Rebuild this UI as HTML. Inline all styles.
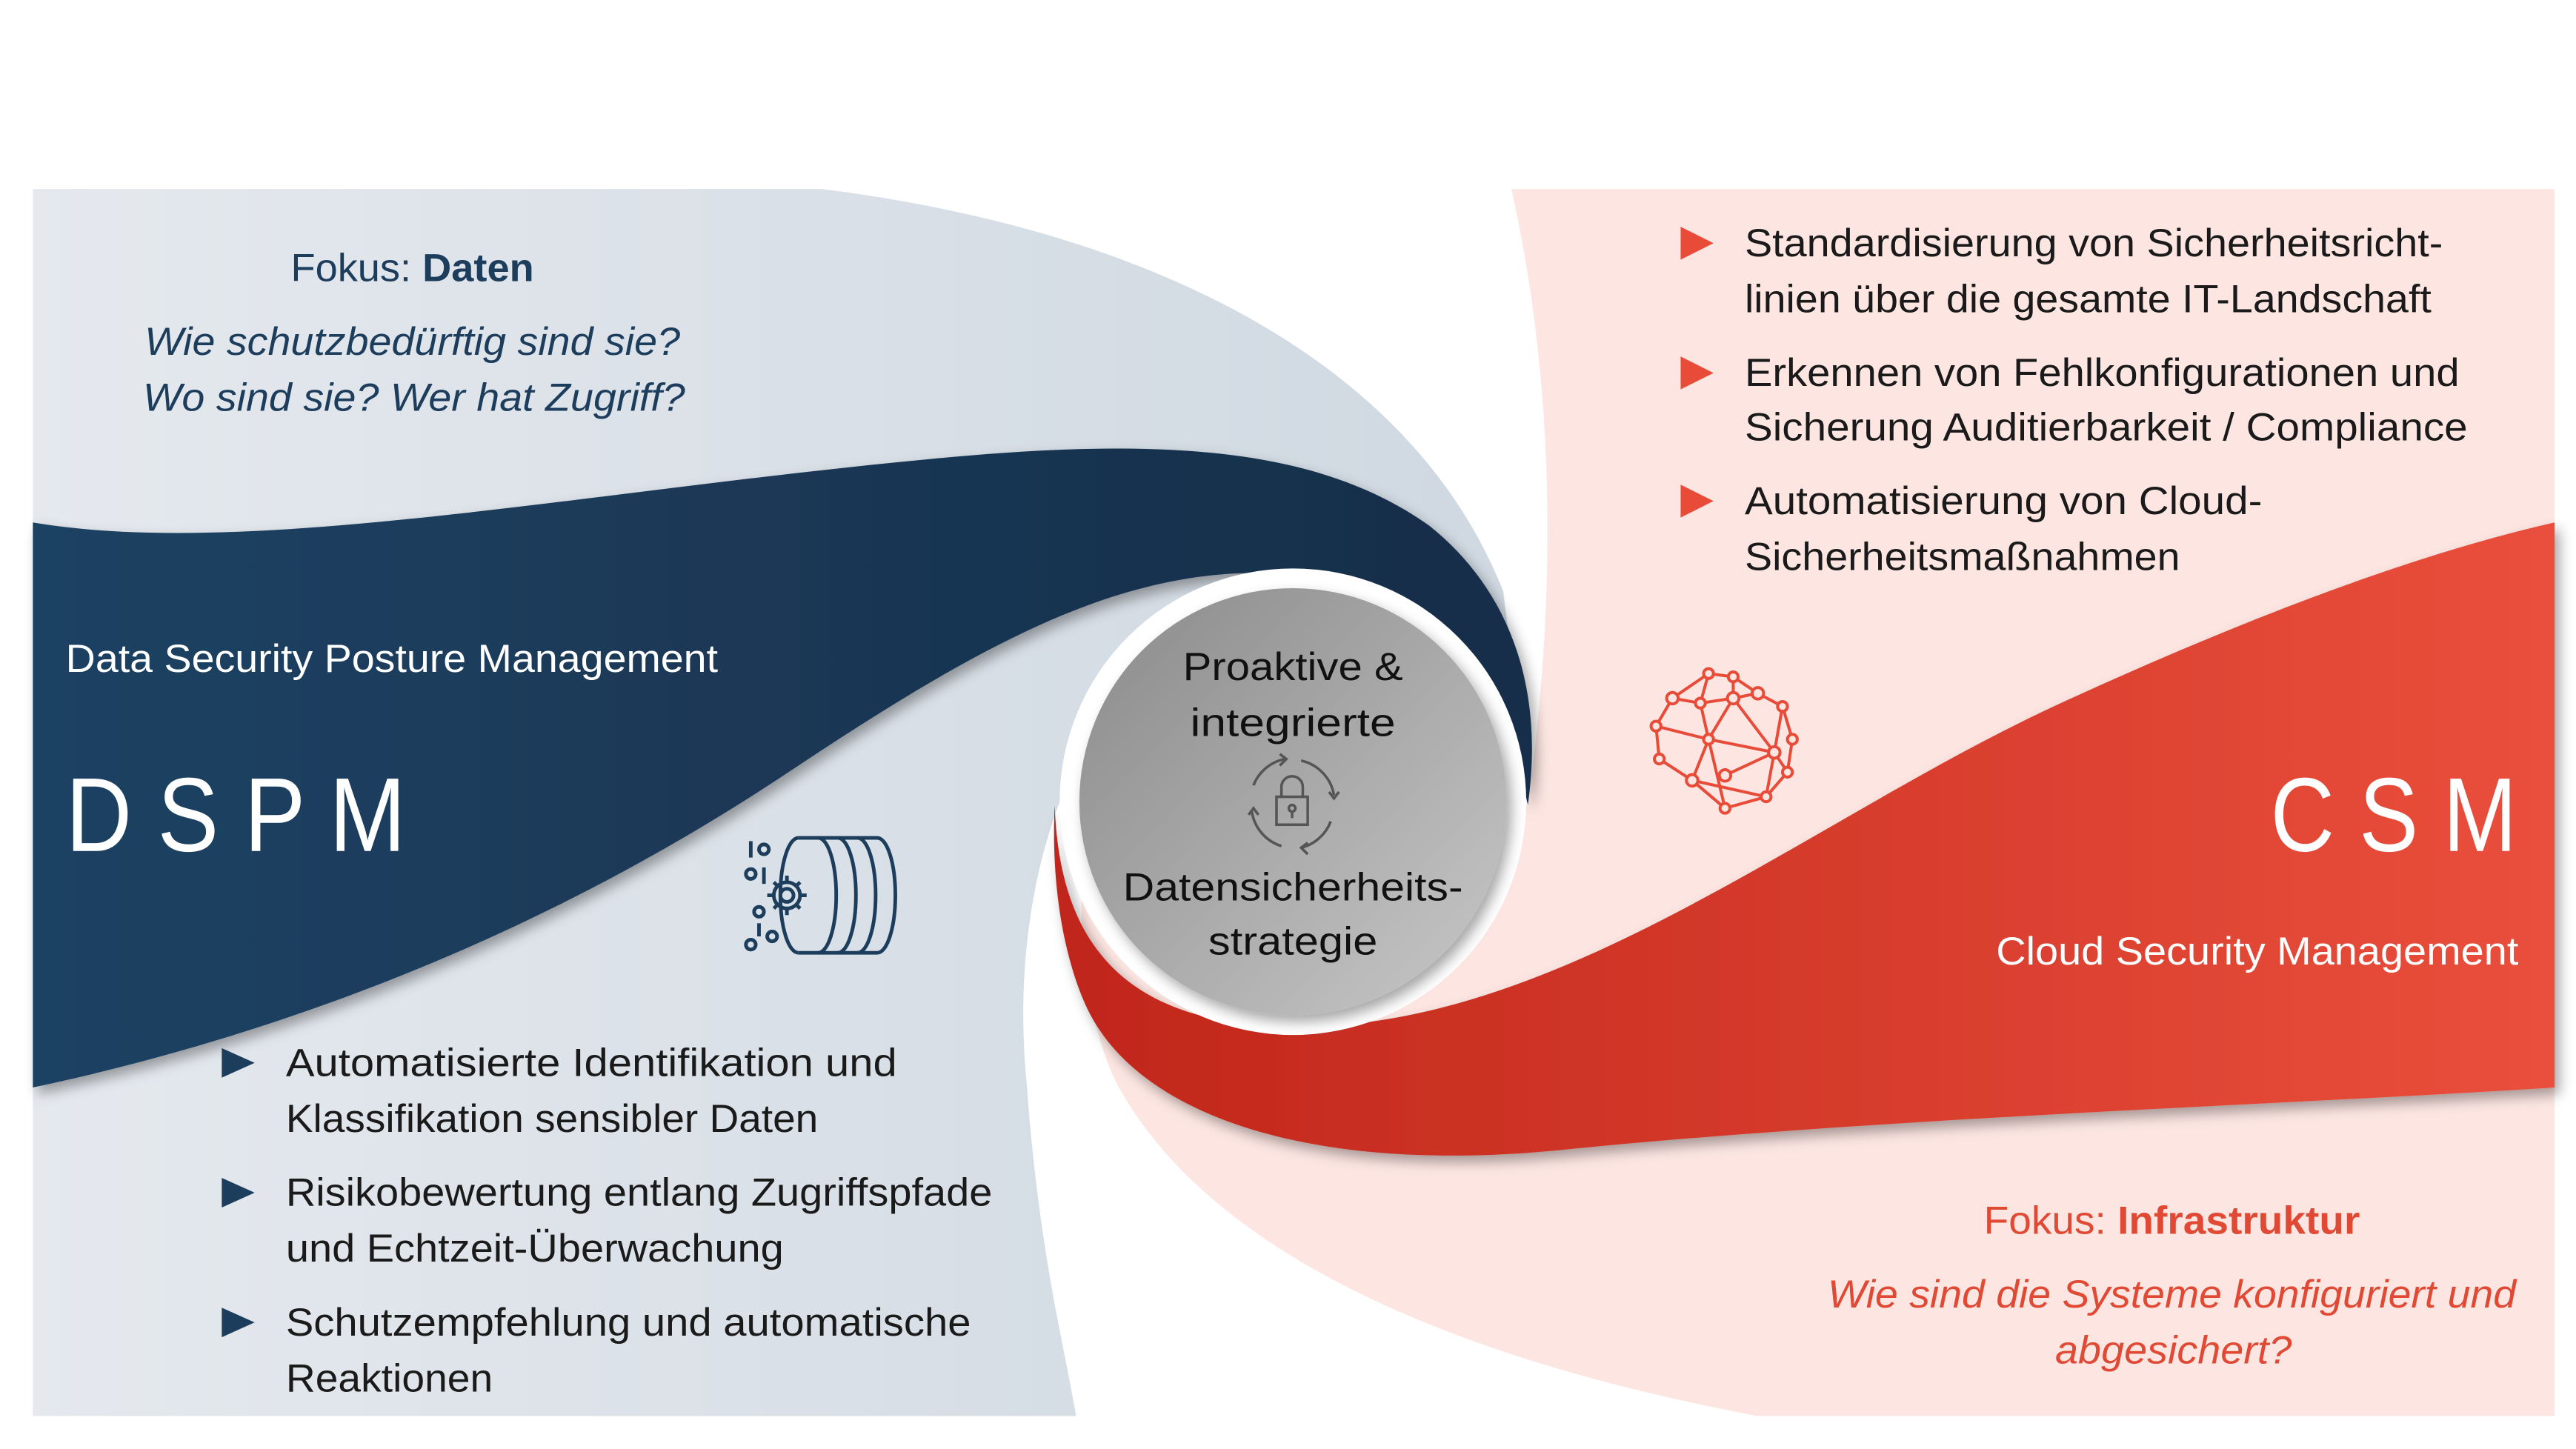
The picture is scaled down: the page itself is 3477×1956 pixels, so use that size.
<!DOCTYPE html>
<html><head><meta charset="utf-8"><style>
html,body{margin:0;padding:0;background:#fff;}
svg{display:block;}
text{font-family:"Liberation Sans","DejaVu Sans",sans-serif;}
</style></head><body>
<svg width="3477" height="1956" viewBox="0 0 1568 882" xmlns="http://www.w3.org/2000/svg">
<defs>
<linearGradient id="lg" x1="0" x2="1" y1="0" y2="0"><stop offset="0" stop-color="#e5e9ee"/><stop offset="1" stop-color="#cfd8e1"/></linearGradient>
<linearGradient id="nv" x1="0" x2="1" y1="0" y2="0"><stop offset="0" stop-color="#1f4263"/><stop offset="1" stop-color="#152d48"/></linearGradient>
<linearGradient id="rd" x1="0" x2="1" y1="0" y2="0"><stop offset="0" stop-color="#c0261a"/><stop offset="1" stop-color="#ea4f3c"/></linearGradient>
<linearGradient id="gr" x1="0" y1="0" x2="1" y2="1"><stop offset="0" stop-color="#8a8a8a"/><stop offset="1" stop-color="#c8c8c8"/></linearGradient>
<filter id="sh" x="-20%" y="-20%" width="140%" height="140%"><feDropShadow dx="3" dy="4" stdDeviation="4" flood-color="#000" flood-opacity="0.35"/></filter>
</defs>
<!-- light left region -->
<path d="M20,115 L500,115 C700,140 860,220 915,360 L930,480 L700,400 C640,460 615,560 625,660 C632,760 648,820 655,862 L20,862 Z" fill="url(#lg)"/>
<!-- pink right region -->
<path d="M920,115 L1555,115 L1555,862 L1070,862 C900,830 740,770 680,660 C660,620 655,560 660,500 L930,490 C945,380 950,250 920,115 Z" fill="#fde6e2"/>
<!-- navy band -->
<path d="M20,318 C150,340 350,300 560,280 C700,266 800,270 870,320 C920,360 940,420 930,490 C915,420 880,360 790,350 C690,340 600,390 480,470 C330,570 170,630 20,662 Z" fill="url(#nv)" filter="url(#sh)"/>
<!-- red band -->
<path d="M642,490 C645,580 690,625 790,625 C950,625 1100,500 1250,430 C1380,370 1480,335 1555,318 L1555,662 C1400,672 1150,680 950,700 C800,715 690,680 660,610 C645,575 640,530 642,490 Z" fill="url(#rd)" filter="url(#sh)"/>
<!-- circle -->
<circle cx="787" cy="488" r="142" fill="#fff"/>
<circle cx="787" cy="488" r="130" fill="url(#gr)" filter="url(#sh)"/>
<g font-size="24" fill="#111" text-anchor="middle">
<text x="787" y="414" textLength="134" lengthAdjust="spacingAndGlyphs">Proaktive &amp;</text>
<text x="787" y="448" textLength="125" lengthAdjust="spacingAndGlyphs">integrierte</text>
<text x="787" y="548" textLength="207" lengthAdjust="spacingAndGlyphs">Datensicherheits-</text>
<text x="787" y="581" textLength="103" lengthAdjust="spacingAndGlyphs">strategie</text>
</g>
<!-- lock icon -->
<g stroke="#555" stroke-width="1.6" fill="none">
<path d="M763,478 A26,26 0 0 1 782,462"/><path d="M792,463 A26,26 0 0 1 812,484"/><path d="M810,500 A26,26 0 0 1 792,516"/><path d="M780,515 A26,26 0 0 1 762,494"/>
<path d="M779,459 l4,3 -4,4"/><path d="M809,482 l3,4 3,-4"/><path d="M796,513 l-4,3 4,4"/><path d="M760,496 l3,-4 3,4"/>
<rect x="777" y="485" width="19" height="17"/><path d="M780,485 v-6 a6.5,6.5 0 0 1 13,0 v6"/><circle cx="786.5" cy="492" r="2"/><path d="M786.5,494 v4"/>
</g>
<!-- left texts -->
<g fill="#1d3d5c" font-size="24">
<text x="251" y="171" text-anchor="middle" textLength="148" lengthAdjust="spacingAndGlyphs">Fokus: <tspan font-weight="bold">Daten</tspan></text>
<text x="251" y="216" text-anchor="middle" font-style="italic" textLength="326" lengthAdjust="spacingAndGlyphs">Wie schutzbedürftig sind sie?</text>
<text x="252" y="250" text-anchor="middle" font-style="italic" textLength="330" lengthAdjust="spacingAndGlyphs">Wo sind sie? Wer hat Zugriff?</text>
</g>
<text x="40" y="409" font-size="24" fill="#fff" textLength="397" lengthAdjust="spacingAndGlyphs">Data Security Posture Management</text>
<text x="40" y="518" font-size="64" fill="#fff" textLength="207" lengthAdjust="spacingAndGlyphs">D S P M</text>
<g fill="#1d3d5c"><path d="M135,638 L155,647 L135,656 Z"/><path d="M135,717 L155,726 L135,735 Z"/><path d="M135,796 L155,805 L135,814 Z"/></g>
<g fill="#1a1a1a" font-size="24">
<text x="174" y="655" textLength="372" lengthAdjust="spacingAndGlyphs">Automatisierte Identifikation und</text>
<text x="174" y="689" textLength="324" lengthAdjust="spacingAndGlyphs">Klassifikation sensibler Daten</text>
<text x="174" y="734" textLength="430" lengthAdjust="spacingAndGlyphs">Risikobewertung entlang Zugriffspfade</text>
<text x="174" y="768" textLength="303" lengthAdjust="spacingAndGlyphs">und Echtzeit-Überwachung</text>
<text x="174" y="813" textLength="417" lengthAdjust="spacingAndGlyphs">Schutzempfehlung und automatische</text>
<text x="174" y="847" textLength="126" lengthAdjust="spacingAndGlyphs">Reaktionen</text>
</g>
<!-- database icon -->
<g stroke="#1d3d5c" stroke-width="2.2" fill="none">
<path d="M486,510 h48 a11,35 0 0 1 0,70 h-48"/><path d="M486,510 a11,35 0 0 0 0,70"/>
<path d="M498,510 a11,35 0 0 1 0,70"/><path d="M510,510 a11,35 0 0 1 0,70"/><path d="M522,510 a11,35 0 0 1 0,70"/>
<circle cx="479" cy="545" r="4"/><path d="M479,533 v4 M479,553 v4 M467,545 h4 M487,545 h4 M471,537 l3,3 M484,550 l3,3 M471,553 l3,-3 M484,540 l3,-3"/><circle cx="479" cy="545" r="8"/>
<path d="M457,512 v10"/><circle cx="465" cy="517" r="3"/><circle cx="457" cy="532" r="3"/><path d="M465,528 v10"/><circle cx="462" cy="555" r="3"/><path d="M462,562 v8"/><circle cx="457" cy="575" r="3"/><circle cx="470" cy="570" r="3"/>
</g>
<!-- right texts -->
<g fill="#e84b38"><path d="M1023,138 L1043,148 L1023,158 Z"/><path d="M1023,217 L1043,227 L1023,237 Z"/><path d="M1023,295 L1043,305 L1023,315 Z"/></g>
<g fill="#1a1a1a" font-size="24">
<text x="1062" y="156" textLength="425" lengthAdjust="spacingAndGlyphs">Standardisierung von Sicherheitsricht-</text>
<text x="1062" y="190" textLength="418" lengthAdjust="spacingAndGlyphs">linien über die gesamte IT-Landschaft</text>
<text x="1062" y="235" textLength="435" lengthAdjust="spacingAndGlyphs">Erkennen von Fehlkonfigurationen und</text>
<text x="1062" y="268" textLength="440" lengthAdjust="spacingAndGlyphs">Sicherung Auditierbarkeit / Compliance</text>
<text x="1062" y="313" textLength="315" lengthAdjust="spacingAndGlyphs">Automatisierung von Cloud-</text>
<text x="1062" y="347" textLength="265" lengthAdjust="spacingAndGlyphs">Sicherheitsmaßnahmen</text>
</g>
<text x="1382" y="518" font-size="64" fill="#fff" textLength="150" lengthAdjust="spacingAndGlyphs">C S M</text>
<text x="1215" y="587" font-size="24" fill="#fff" textLength="318" lengthAdjust="spacingAndGlyphs">Cloud Security Management</text>
<g fill="#e04a35" font-size="24" text-anchor="middle">
<text x="1322" y="751" textLength="229" lengthAdjust="spacingAndGlyphs">Fokus: <tspan font-weight="bold">Infrastruktur</tspan></text>
<text x="1322" y="796" font-style="italic" textLength="419" lengthAdjust="spacingAndGlyphs">Wie sind die Systeme konfiguriert und</text>
<text x="1323" y="830" font-style="italic" textLength="144" lengthAdjust="spacingAndGlyphs">abgesichert?</text>
</g>
<!-- network icon -->
<g stroke="#e84b38" stroke-width="1.8" fill="none">
<path d="M1040,410 L1055,412 L1070,422 L1085,430 L1091,450 L1088,470 L1075,485 L1050,492 L1030,475 L1010,462 L1008,442 L1018,425 Z"/>
<path d="M1040,410 L1035,428 L1018,425 M1035,428 L1055,425 L1070,422 M1055,425 L1080,458 L1088,470 M1055,425 L1040,450 L1008,442 M1040,450 L1080,458 M1040,450 L1050,492 M1040,450 L1030,475 L1050,492 M1080,458 L1085,430 M1080,458 L1075,485 M1030,475 L1075,485 M1035,428 L1040,450 M1055,412 L1055,425 M1050,472 L1080,458"/>
</g>
<g fill="#fde6e2" stroke="#e84b38" stroke-width="1.8">
<circle cx="1040" cy="410" r="3"/><circle cx="1055" cy="412" r="3"/><circle cx="1070" cy="422" r="3.5"/><circle cx="1085" cy="430" r="3"/><circle cx="1091" cy="450" r="3"/><circle cx="1088" cy="470" r="3"/><circle cx="1075" cy="485" r="3"/><circle cx="1050" cy="492" r="3"/><circle cx="1030" cy="475" r="3.5"/><circle cx="1010" cy="462" r="3"/><circle cx="1008" cy="442" r="3"/><circle cx="1018" cy="425" r="3.5"/><circle cx="1035" cy="428" r="3"/><circle cx="1055" cy="425" r="3.5"/><circle cx="1040" cy="450" r="3"/><circle cx="1080" cy="458" r="3.5"/><circle cx="1050" cy="472" r="3.5"/>
</g>
</svg>
</body></html>
